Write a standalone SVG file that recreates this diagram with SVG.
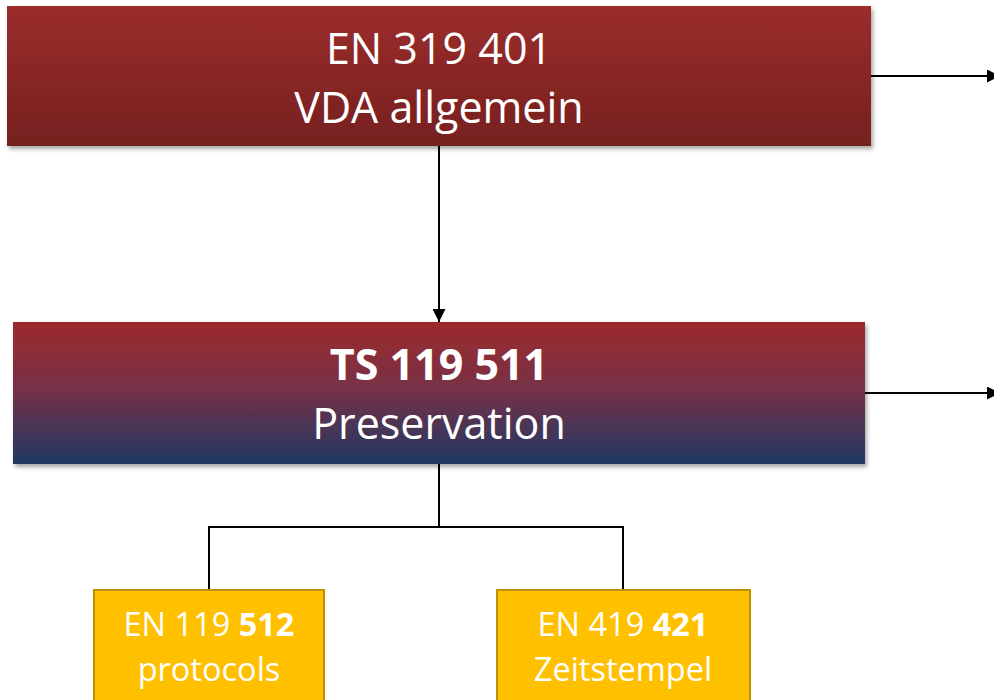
<svg xmlns="http://www.w3.org/2000/svg" width="994" height="700" viewBox="0 0 994 700">
  <defs>
    <linearGradient id="gradRed" x1="0" y1="0" x2="0" y2="1">
      <stop offset="0" stop-color="#9b2d2c"/>
      <stop offset="1" stop-color="#76201f"/>
    </linearGradient>
    <linearGradient id="gradRedBlue" x1="0" y1="0" x2="0" y2="1">
      <stop offset="0" stop-color="#9b2b2b"/>
      <stop offset="0.45" stop-color="#7a3046"/>
      <stop offset="1" stop-color="#1f3864"/>
    </linearGradient>
    <filter id="shadow" x="-5%" y="-10%" width="110%" height="125%">
      <feDropShadow dx="2" dy="3" stdDeviation="2" flood-color="#000" flood-opacity="0.35"/>
    </filter>
    <marker id="arrow" viewBox="0 0 10 10" refX="10" refY="5" markerWidth="6.5" markerHeight="6.5" markerUnits="strokeWidth" orient="auto">
      <path d="M0,0 L10,5 L0,10 Z" fill="#000"/>
    </marker>
    <style>
      .title { font-family: "Open Sans", "Liberation Sans", sans-serif; fill: #fff; text-anchor: middle; }
      .big { font-size: 43px; }
      .small { font-size: 32.5px; }
      .bold { font-weight: bold; }
      .conn { stroke: #000; stroke-width: 2; fill: none; }
      .leaf { fill: #ffc000; stroke: #bf9000; stroke-width: 2; }
    </style>
  </defs>

  <!-- connectors -->
  <g id="connectors">
    <line class="conn" x1="871" y1="76" x2="1000" y2="76" marker-end="url(#arrow)"/>
    <line class="conn" x1="865" y1="393" x2="1000" y2="393" marker-end="url(#arrow)"/>
    <line class="conn" x1="439" y1="146" x2="439" y2="322" marker-end="url(#arrow)"/>
    <path class="conn" d="M439,464 V527 M209,590 V527 H623 V590"/>
  </g>

  <g id="node-en319401">
    <rect x="7" y="6" width="864" height="140" fill="url(#gradRed)" filter="url(#shadow)"/>
    <text class="title big" x="439" y="64">EN 319 401</text>
    <text class="title big" x="439" y="123">VDA allgemein</text>
  </g>

  <g id="node-ts119511">
    <rect x="13" y="322" width="852" height="142" fill="url(#gradRedBlue)" filter="url(#shadow)"/>
    <text class="title big bold" x="439" y="380">TS 119 511</text>
    <text class="title big" x="439" y="439">Preservation</text>
  </g>

  <g id="node-en119512">
    <rect class="leaf" x="94" y="590" width="230" height="120"/>
    <text class="title small" x="209" y="636">EN 119 <tspan class="bold">512</tspan></text>
    <text class="title small" x="209" y="681">protocols</text>
  </g>

  <g id="node-en419421">
    <rect class="leaf" x="497" y="590" width="253" height="120"/>
    <text class="title small" x="623" y="636">EN 419 <tspan class="bold">421</tspan></text>
    <text class="title small" x="623" y="681">Zeitstempel</text>
  </g>
</svg>
